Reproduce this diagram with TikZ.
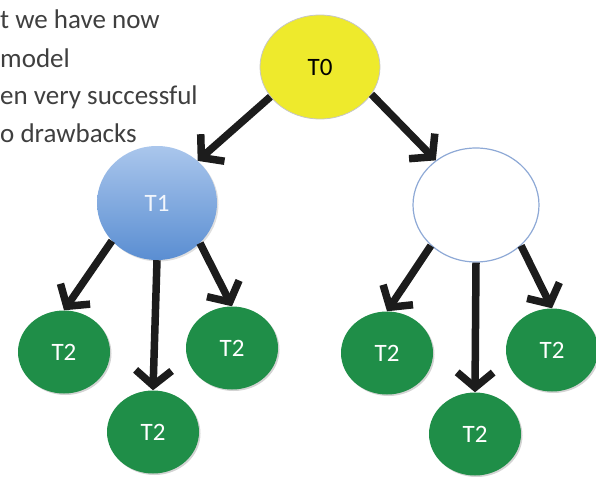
\documentclass[tikz,border=0pt]{standalone}
\usepackage{fontspec}
\setmainfont{Carlito}
\usetikzlibrary{shapes.geometric,arrows.meta,shadows}

\definecolor{rootyellow}{HTML}{EEEA2C}
\definecolor{leafgreen}{HTML}{1F8E48}
\definecolor{arrowgray}{HTML}{1C1C1C}
\definecolor{notegray}{HTML}{3F3F3F}
\definecolor{bluetop}{HTML}{AAC6EC}
\definecolor{bluebottom}{HTML}{5A8ED2}
\definecolor{ringblue}{HTML}{8EA9D6}

\begin{document}
\begin{tikzpicture}[x=1pt, y=-1pt,
		tnode/.style={ellipse, inner sep=0pt, font=\fontsize{25}{28}\selectfont},
		note/.style={anchor=base west, inner sep=0pt, text=notegray, font=\fontsize{27}{30}\selectfont},
		leaf/.style={tnode, fill=leafgreen, text=white, minimum width=92pt, minimum height=83pt,
			drop shadow={opacity=0.35, shadow xshift=1.5pt, shadow yshift=-1.5pt}},
		edge/.style={draw=arrowgray, line width=7.5pt, -{Straight Barb[length=15pt, width=36pt]}}]
		\useasboundingbox (0, 0) rectangle (596, 476);
		% note text
		\node[note] (l1) at (0, 29) {t we have now};
		\node[note] (l2) at (0, 68) {model};
		\node[note] (l3) at (0, 104) {en very successful};
		\node[note] (l4) at (0, 142) {o drawbacks};

		% tree
		\node[tnode, fill=rootyellow, draw=gray!45, line width=0.8pt, minimum width=120pt, minimum height=104pt] (t0) at (320, 67) {T0};
		\node[tnode, top color=bluetop, bottom color=bluebottom, text=white!85!bluetop,
			minimum width=120pt, minimum height=114pt, drop shadow={opacity=0.25, shadow xshift=1.5pt, shadow yshift=-1.5pt}] (t1) at (157, 203) {T1};
		\node[tnode, fill=white, draw=ringblue, line width=1.2pt, minimum width=126pt, minimum height=114pt] (t1r) at (476, 205) {};

		\node[leaf] (t2a) at (64, 352) {T2};
		\node[leaf] (t2b) at (153, 432) {T2};
		\node[leaf] (t2c) at (232, 348) {T2};
		\node[leaf] (t2d) at (387, 353) {T2};
		\node[leaf] (t2e) at (475, 434) {T2};
		\node[leaf] (t2f) at (552, 350) {T2};

		\draw[edge] (t0.-149) -- (t1.46);
		\draw[edge] (t0.-28) -- (t1r.132);
		\draw[edge] (t1.-140) -- (t2a.north);
		\draw[edge] (t1.south) -- (t2b.north);
		\draw[edge] (t1.-43) -- (t2c.north);
		\draw[edge] (t1r.-138) -- (t2d.north);
		\draw[edge] (t1r.south) -- (t2e.north);
		\draw[edge] (t1r.-42) -- (t2f.north);
	\end{tikzpicture}
\end{document}
